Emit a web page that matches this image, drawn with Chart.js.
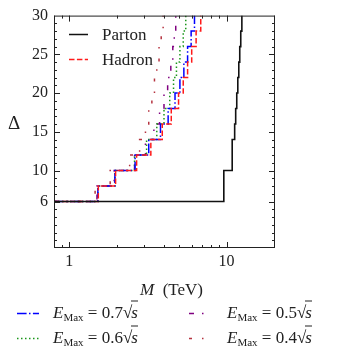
<!DOCTYPE html>
<html>
<head>
<meta charset="utf-8">
<script src="https://cdn.jsdelivr.net/npm/chart.js@4.4.1/dist/chart.umd.min.js"></script>
<style>
    body { margin: 0; background: #fff; }
    #wrap { position: relative; width: 339px; height: 360px; font-family: 'Liberation Serif', 'DejaVu Serif', serif; color: #222; }
    #chart { position: absolute; left: 0; top: 0; }
    .txt { position: absolute; white-space: nowrap; font-size: 17px; line-height: 1; transform: translateY(-50%); }
    .leg { position: absolute; display: flex; align-items: center; white-space: nowrap; font-size: 17px; line-height: 1; transform: translateY(-50%); }
    .leg svg { display: block; }
    .leg sub { font-size: 11px; font-style: normal; vertical-align: -3px; }
    .root { border-top: 1px solid #222; padding-top: 1px; margin-left: -1px; }
</style>
</head>
<body>
<div id="wrap">
    <canvas id="chart" width="339" height="360"></canvas>
    <div class="txt" style="left: 8px; top: 122px; font-size: 19px;">Δ</div>
    <div class="txt" style="left: 140px; top: 289px;"><i>M</i>&nbsp; (TeV)</div>
    <div id="inLegend"></div>
    <div id="outLegend"></div>
</div>

<script>
// step levels of the colored curves and the masses (TeV) where each level is reached
const levels = [6, 8, 10, 12, 14, 16, 18, 20, 22, 24, 26, 28, 30];
const hadronM = [0.8, 1.53, 1.97, 2.68, 3.3, 3.9, 4.45, 4.95, 5.3, 5.65, 6.0, 6.4, 6.85];
const emax07M = [0.8, 1.52, 1.95, 2.62, 3.2, 3.8, 4.25, 4.7, 5.05, 5.35, 5.65, 5.95, 6.25];
const emax06M = [0.8, 1.52, 1.95, 2.6, 3.1, 3.6, 4.0, 4.35, 4.6, 4.8, 5.05, 5.3, 5.5];
const emax05M = [0.8, 1.5, 1.93, 2.6, 3.05, 3.45, 3.75, 4.0, 4.22, 4.42, 4.55, 4.65, 4.75];
const emax04M = [0.8, 1.46, 1.82, 2.42, 2.8, 3.05, 3.2, 3.35, 3.48, 3.6, 3.72, 3.84, 3.95];

const partonM = [0.8, 9.6, 10.85, 11.25, 11.42, 11.6, 11.78, 11.95, 12.12, 12.3, 12.5];
const partonD = [6, 10, 14, 16, 18, 20, 22, 24, 26, 28, 30];

const xMajor = [1, 10];
const xMinor = [0.8, 0.9, 2, 3, 4, 5, 6, 7, 8, 9, 20];
const yMajor = [6, 10, 15, 20, 25, 30];

const FONT = "'Liberation Serif', 'DejaVu Serif', serif";
const INK = '#222';

function pts(masses, deltas) {
    return masses.map((m, i) => ({ x: m, y: deltas[i] }));
}

function line(label, masses, deltas, color, dash, width) {
    return {
        label, data: pts(masses, deltas),
        borderColor: color, borderWidth: width || 1.5, borderDash: dash,
        pointRadius: 0, stepped: 'before', fill: false
    };
}

// ticks pointing inwards on all four sides + the frame
const frameTicks = {
    id: 'frameTicks',
    afterDraw(chart) {
        const { ctx, chartArea: a, scales: { x, y } } = chart;
        ctx.save();
        ctx.strokeStyle = INK;
        ctx.lineWidth = 1;
        ctx.strokeRect(a.left + 0.5, a.top + 0.5, a.width - 1, a.height - 1);
        ctx.beginPath();
        const xt = (v, len) => {
            const p = Math.round(x.getPixelForValue(v)) + 0.5;
            ctx.moveTo(p, a.bottom); ctx.lineTo(p, a.bottom - len);
            ctx.moveTo(p, a.top); ctx.lineTo(p, a.top + len);
        };
        const yt = (v, len) => {
            const p = Math.round(y.getPixelForValue(v)) + 0.5;
            ctx.moveTo(a.left, p); ctx.lineTo(a.left + len, p);
            ctx.moveTo(a.right, p); ctx.lineTo(a.right - len, p);
        };
        xMajor.forEach(v => xt(v, 6));
        xMinor.forEach(v => xt(v, 3));
        for (let v = 1; v < 30; v++) yt(v, yMajor.includes(v) ? 6 : 3);
        ctx.stroke();
        ctx.restore();
    }
};

new Chart(document.getElementById('chart'), {
    type: 'line',
    data: {
        datasets: [
            line('Parton', partonM, partonD, '#111', [], 1.6),
            line('Hadron', hadronM, levels, '#ff1a1a', [5.5, 2.4]),
            line('0.7', emax07M, levels, '#0000ff', [9.6, 2.4, 1.5, 2.4]),
            line('0.6', emax06M, levels, '#1a961a', [1.5, 2.5]),
            line('0.5', emax05M, levels, '#800080', [5, 8, 1.5, 8]),
            line('0.4', emax04M, levels, '#b5323f', [3, 10, 1.5, 10])
        ]
    },
    options: {
        responsive: false,
        animation: false,
        events: [],
        layout: { padding: { top: 13, right: 64, left: 0, bottom: 0 } },
        plugins: { legend: { display: false }, tooltip: { enabled: false } },
        scales: {
            x: {
                type: 'logarithmic', min: 0.8, max: 20.3,
                afterBuildTicks: s => { s.ticks = xMajor.map(v => ({ value: v })); },
                afterFit: s => { s.height = 112; },
                grid: { display: false, drawTicks: false },
                border: { display: false },
                ticks: { callback: v => String(v), font: { family: FONT, size: 16 }, color: INK, padding: 4, maxRotation: 0, autoSkip: false }
            },
            y: {
                type: 'linear', min: 0, max: 30,
                afterBuildTicks: s => { s.ticks = yMajor.map(v => ({ value: v })); },
                afterFit: s => { s.width = 54; },
                grid: { display: false, drawTicks: false },
                border: { display: false },
                ticks: { font: { family: FONT, size: 16 }, color: INK, padding: 6, autoSkip: false }
            }
        }
    },
    plugins: [frameTicks]
});

// legends (HTML so the math labels keep their sub/overline)
function sample(color, dash, width, len) {
    return `<svg width="${len}" height="6"><line x1="0" y1="3" x2="${len}" y2="3" stroke="${color}" stroke-width="${width}" stroke-dasharray="${dash.join(' ')}"/></svg>`;
}
function emax(v) {
    return `<i>E</i><sub>Max</sub>&nbsp;=&nbsp;${v}√<span class="root"><i>s</i></span>`;
}

document.getElementById('inLegend').innerHTML = `
    <div class="leg" style="left: 69px; top: 34px;">${sample('#111', [], 1.6, 19)}<span style="margin-left: 14px;">Parton</span></div>
    <div class="leg" style="left: 69px; top: 59px;">${sample('#ff1a1a', [5.5, 2.4], 1.5, 19)}<span style="margin-left: 14px;">Hadron</span></div>
`;

document.getElementById('outLegend').innerHTML = `
    <div class="leg" style="left: 17px; top: 313px;">${sample('#0000ff', [9.6, 2.4, 1.5, 2.4], 1.5, 22)}<span style="margin-left: 14px;">${emax('0.7')}</span></div>
    <div class="leg" style="left: 17px; top: 338px;">${sample('#1a961a', [1.5, 2.5], 1.5, 22)}<span style="margin-left: 14px;">${emax('0.6')}</span></div>
    <div class="leg" style="left: 189px; top: 313px;">${sample('#800080', [5, 8, 1.5, 8], 1.5, 22)}<span style="margin-left: 16px;">${emax('0.5')}</span></div>
    <div class="leg" style="left: 189px; top: 338px;">${sample('#b5323f', [3, 10, 1.5, 10], 1.5, 22)}<span style="margin-left: 16px;">${emax('0.4')}</span></div>
`;
</script>
</body>
</html>
